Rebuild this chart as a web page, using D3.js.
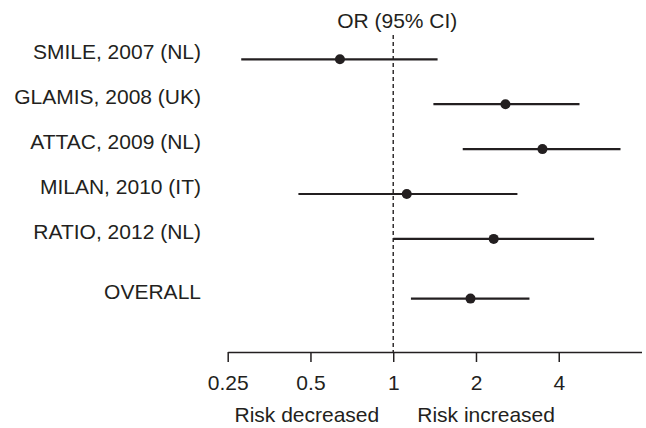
<!DOCTYPE html>
<html>
<head>
<meta charset="utf-8">
<script src="https://cdnjs.cloudflare.com/ajax/libs/d3/7.8.5/d3.min.js"></script>
<style>
  body { margin: 0; background: #fff; }
  text { font-family: "Liberation Sans", Arial, Helvetica, sans-serif; fill: #231f20; }
</style>
</head>
<body>
<div id="chart"></div>
<script>
// data
const studies = ["SMILE, 2007 (NL)", "GLAMIS, 2008 (UK)", "ATTAC, 2009 (NL)", "MILAN, 2010 (IT)", "RATIO, 2012 (NL)"]
const orValues = [0.64, 2.56, 3.49, 1.12, 2.32]
const ciLow = [0.28, 1.40, 1.79, 0.452, 1.0]
const ciHigh = [1.45, 4.76, 6.71, 2.83, 5.38]

const overallLabel = "OVERALL"
const overallOR = 1.91
const overallLow = 1.16
const overallHigh = 3.13

const tickValues = [0.25, 0.5, 1, 2, 4]
const tickLabels = ["0.25", "0.5", "1", "2", "4"]

const width = 646
const height = 428
const ink = "#231f20"
const fs = "21px"

const svg = d3.select("#chart").append("svg")
  .attr("width", width)
  .attr("height", height)

// log2 x scale, 0.25 -> 8
const x = d3.scaleLog().base(2)
  .domain([0.25, 8])
  .range([227.7, 641.5])

// row positions, overall row gets a bit more room
const y = d3.scaleLinear()
  .domain([0, 1])
  .range([59.3, 104.2])

let rows = studies.map((s, i) => ({ label: s, or: orValues[i], lo: ciLow[i], hi: ciHigh[i], pos: i }))
rows.push({ label: overallLabel, or: overallOR, lo: overallLow, hi: overallHigh, pos: studies.length + 0.33 })

const axisY = 352

// reference line at OR = 1
svg.append("line")
  .attr("x1", x(1)).attr("x2", x(1))
  .attr("y1", 35).attr("y2", axisY)
  .attr("stroke", ink)
  .attr("stroke-width", 1.4)
  .attr("stroke-dasharray", "4,3")

// title
svg.append("text")
  .attr("x", x(1) + 4)
  .attr("y", 28)
  .attr("text-anchor", "middle")
  .attr("font-size", fs)
  .text("OR (95% CI)")

// labels
svg.selectAll(".lab")
  .data(rows)
  .enter()
  .append("text")
  .attr("class", "lab")
  .attr("x", 201)
  .attr("y", d => y(d.pos))
  .attr("text-anchor", "end")
  .attr("font-size", fs)
  .text(d => d.label)

// CI lines
svg.selectAll(".ci")
  .data(rows)
  .enter()
  .append("line")
  .attr("class", "ci")
  .attr("x1", d => x(d.lo))
  .attr("x2", d => x(d.hi))
  .attr("y1", d => y(d.pos))
  .attr("y2", d => y(d.pos))
  .attr("stroke", ink)
  .attr("stroke-width", 2.2)

// points
svg.selectAll(".pt")
  .data(rows)
  .enter()
  .append("circle")
  .attr("class", "pt")
  .attr("cx", d => x(d.or))
  .attr("cy", d => y(d.pos))
  .attr("r", 5)
  .attr("fill", ink)

// x axis
const axis = d3.axisBottom(x)
  .tickValues(tickValues)
  .tickFormat((d, i) => tickLabels[i])
  .tickSize(10)
  .tickPadding(13)
  .tickSizeOuter(0)

const gx = svg.append("g")
  .attr("transform", `translate(0,${axisY})`)
  .call(axis)
gx.select(".domain").attr("stroke", ink).attr("stroke-width", 1.5)
gx.selectAll(".tick line").attr("stroke", ink).attr("stroke-width", 1.5)
gx.selectAll(".tick text")
  .attr("font-size", fs)
  .attr("font-family", "Liberation Sans, Arial, sans-serif")
  .attr("fill", ink)

// under-axis captions
svg.append("text")
  .attr("x", x(1) - 14)
  .attr("y", 421.5)
  .attr("text-anchor", "end")
  .attr("font-size", fs)
  .text("Risk decreased")

svg.append("text")
  .attr("x", x(1) + 24)
  .attr("y", 421.5)
  .attr("text-anchor", "start")
  .attr("font-size", fs)
  .text("Risk increased")
</script>
</body>
</html>
